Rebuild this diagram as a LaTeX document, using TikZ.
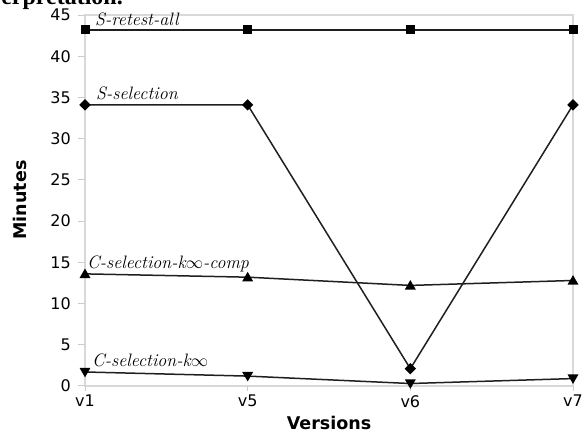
\documentclass[tikz,border=0pt]{standalone}
\usepackage{fontspec}
\newfontfamily\labelfont{DejaVu Sans}
\newfontfamily\bodyfont{Liberation Serif}
\usetikzlibrary{shapes.geometric}
\begin{document}
\begin{tikzpicture}[x=1pt,y=-1pt,
  frame/.style={draw=black!15,line width=1.2pt},
  tickmark/.style={draw=black!20,line width=1pt},
  series/.style={draw=black!88,line width=1.5pt},
  sq/.style={fill=black,draw=none,rectangle,minimum size=9pt,inner sep=0pt},
  dia/.style={fill=black,draw=none,diamond,minimum size=11.5pt,inner sep=0pt},
  tri/.style={fill=black,draw=none,isosceles triangle,isosceles triangle apex angle=60,shape border rotate=90,minimum size=9.5pt,inner sep=0pt},
  itri/.style={tri,shape border rotate=270},
  ticklabel/.style={font=\labelfont\fontsize{16}{16}\selectfont,inner sep=0pt},
  axislabel/.style={font=\labelfont\bfseries\fontsize{17.5}{17.5}\selectfont,inner sep=0pt},
  serieslabel/.style={font=\itshape\fontsize{18}{18}\selectfont,inner sep=0pt,anchor=base west},
]
\useasboundingbox (0,0) rectangle (587,435);
\clip (0,0) rectangle (587,435);

% running text of the page above the chart
\node[font=\bodyfont\bfseries\fontsize{24}{24}\selectfont,anchor=base east,inner sep=0pt] (para) at (123,4.5) {erpretation.};

% plot frame
\coordinate (tl) at (85,15);
\coordinate (tr) at (573,15);
\coordinate (bl) at (85,386);
\coordinate (br) at (573,386);
\draw[frame] (bl) -- (tl) -- (tr) -- (br) -- cycle;

% y ticks and labels
\foreach \v in {0,5,...,45} {
  \coordinate (yt\v) at (85,{386-\v*8.244});
  \draw[tickmark] (yt\v) -- ++(-7,0);
  \node[ticklabel,anchor=east] (yl\v) at ([xshift=-14pt]yt\v) {\v};
}
% x ticks and labels
\foreach \i/\t in {0/v1,1/v5,2/v6,3/v7} {
  \coordinate (xt\i) at ({85+\i*162.67},386);
  \draw[tickmark] (xt\i) -- ++(0,5);
  \node[ticklabel,anchor=north] (xl\i) at ([yshift=-9pt]xt\i) {\t};
}
\node[axislabel] (xlab) at (329,423) {Versions};
\node[axislabel,rotate=90] (ylab) at (20,200) {Minutes};

% data points (minutes per version)
\begin{scope}[shift={(85,386)},x=162.67pt,y=8.244pt]
  \foreach \i/\v in {0/43.2,1/43.2,2/43.2,3/43.2} \coordinate (a\i) at (\i,\v);
  \foreach \i/\v in {0/34.1,1/34.1,2/2.1,3/34.1} \coordinate (b\i) at (\i,\v);
  \foreach \i/\v in {0/13.6,1/13.2,2/12.2,3/12.8} \coordinate (c\i) at (\i,\v);
  \foreach \i/\v in {0/1.7,1/1.2,2/0.3,3/0.9} \coordinate (d\i) at (\i,\v);
\end{scope}

% series lines
\draw[series] (a0) -- (a1) -- (a2) -- (a3);
\draw[series] (b0) -- (b1) -- (b2) -- (b3);
\draw[series] (c0) -- (c1) -- (c2) -- (c3);
\draw[series] (d0) -- (d1) -- (d2) -- (d3);

% markers
\foreach \i in {0,...,3} {
  \node[sq] (ma\i) at (a\i) {};
  \node[dia] (mb\i) at (b\i) {};
  \node[tri] (mc\i) at ([yshift=-1pt]c\i) {};
  \node[itri] (md\i) at ([yshift=1pt]d\i) {};
}

% series labels
\node[serieslabel] (la) at (95,26) {S-retest-all};
\node[serieslabel] (lb) at (96,100) {S-selection};
\node[serieslabel] (lc) at (87,269) {C-selection-k$\infty$-comp};
\node[serieslabel] (ld) at (92,367) {C-selection-k$\infty$};
\end{tikzpicture}
\end{document}
